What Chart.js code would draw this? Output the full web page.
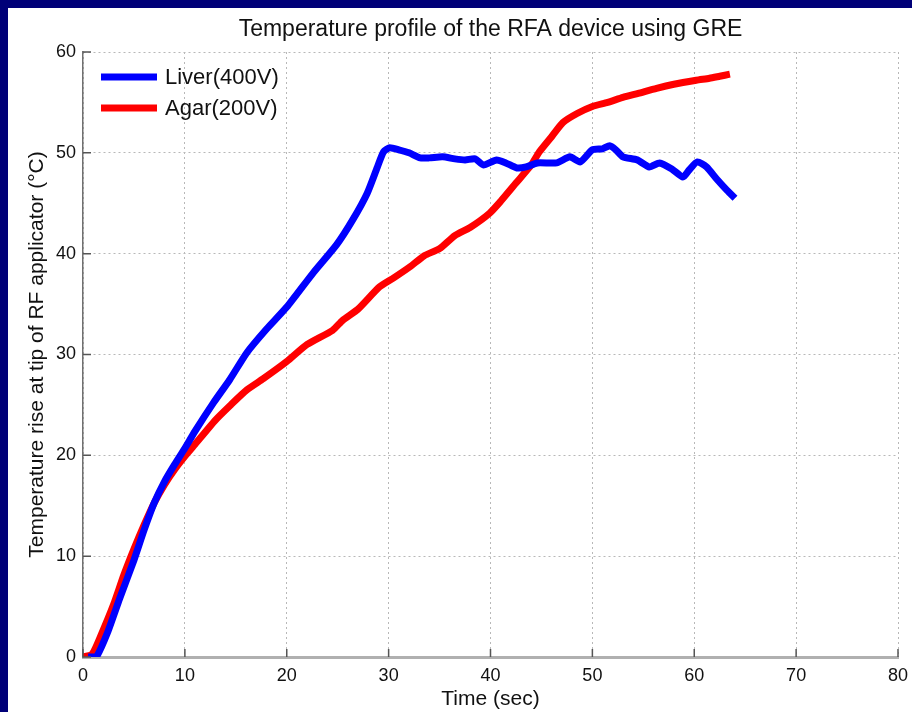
<!DOCTYPE html>
<html>
<head>
<meta charset="utf-8">
<script src="https://cdn.jsdelivr.net/npm/chart.js@4/dist/chart.umd.min.js"></script>
<style>
    html, body { margin: 0; padding: 0; background: #000078; }
    #chart_holder { width: 912px; height: 712px; }
</style>
</head>
<body>
<div id="chart_holder"><canvas id="temperature_chart"></canvas></div>
<script>
// values: time in sec, temperature rise in degC
let liverTime = [0.5, 1.3, 2.4, 3.6, 5, 6, 7, 8, 9, 10, 11, 12.8, 14.4, 16.1, 18, 20, 22.6, 24.9, 26.5, 27.9, 28.9, 29.5,
    30.1, 31, 32, 33.1, 34, 35.3, 36.5, 37.5, 38.5, 39.3, 40.6, 41.5, 42.6, 43.5, 44.6, 46.5, 47.8, 48.8, 50, 51,
    51.7, 52.3, 53, 54.4, 55.6, 56.6, 57.8, 58.9, 59.5, 60.3, 61.2, 62.2, 63.2, 64];
let liverTemp = [0, 0, 2.4, 5.8, 9.6, 12.6, 15.3, 17.4, 19.1, 20.7, 22.4, 25.2, 27.5, 30.2, 32.5, 34.7, 38.1, 40.9, 43.4, 46, 48.6, 50.1,
    50.5, 50.3, 50, 49.5, 49.5, 49.6, 49.4, 49.3, 49.4, 48.8, 49.3, 49, 48.5, 48.6, 49, 49, 49.6, 49.1, 50.3, 50.4,
    50.7, 50.3, 49.6, 49.3, 48.6, 49, 48.4, 47.6, 48.3, 49.1, 48.6, 47.4, 46.3, 45.5];

let agarTime = [0, 0.9, 1.7, 3, 4, 5, 6, 7, 8, 9, 10, 11, 13, 14.5, 16.1, 17.7, 20, 22, 24.5, 25.5, 27, 29.1,
    30.5, 32.1, 33.5, 35, 36.5, 38, 39.9, 41, 42.5, 44, 44.8, 46, 47.1, 48.5, 50, 51.5, 53, 54.5, 56.3, 58,
    60.2, 61.5, 62.5, 63.5];
let agarTemp = [0, 0.3, 2, 5.2, 8.1, 10.7, 13.1, 15.3, 17.1, 18.6, 19.9, 21.1, 23.5, 25, 26.5, 27.6, 29.3, 31, 32.4, 33.4, 34.5, 36.7,
    37.6, 38.7, 39.8, 40.5, 41.8, 42.6, 44, 45.2, 47, 48.8, 50.1, 51.6, 53, 53.9, 54.6, 55, 55.5, 55.9, 56.4, 56.8,
    57.2, 57.4, 57.6, 57.8];

let xTicks = [0, 10, 20, 30, 40, 50, 60, 70, 80];
let yTicks = [0, 10, 20, 30, 40, 50, 60];

let seriesNames = ["Liver(400V)", "Agar(200V)"];
let seriesColors = ["#0000ff", "#ff0000"];

let chartTitle = "Temperature profile of the RFA device using GRE";
let fontFamily = "'Liberation Sans', Arial, Helvetica, sans-serif";

function toPoints(xs, ys){
    let points = [];
    for(let i = 0; i < xs.length; i++){
        points.push({x: xs[i], y: ys[i]});
    }
    return points;
}

// navy frame round the white figure
let framePlugin = {
    id: "frame",
    beforeDraw(chart){
        let ctx = chart.ctx;
        ctx.save();
        ctx.fillStyle = "#000078";
        ctx.fillRect(0, 0, chart.width, chart.height);
        ctx.fillStyle = "#ffffff";
        ctx.fillRect(8, 8, chart.width - 8, chart.height - 8);
        ctx.restore();
    }
};

// title centred over the plot area, like matlab does it
let plotTitlePlugin = {
    id: "plotTitle",
    afterDraw(chart){
        let ctx = chart.ctx;
        let area = chart.chartArea;
        ctx.save();
        ctx.font = "23px " + fontFamily;
        ctx.fillStyle = "#111111";
        ctx.textAlign = "center";
        ctx.textBaseline = "middle";
        ctx.fillText(chartTitle, (area.left + area.right) / 2, 30);
        ctx.restore();
    }
};

// matlab style ticks pointing into the plot
let innerTicksPlugin = {
    id: "innerTicks",
    afterDatasetsDraw(chart){
        let ctx = chart.ctx;
        let area = chart.chartArea;
        ctx.save();
        ctx.strokeStyle = "#555555";
        ctx.lineWidth = 1.5;
        ctx.beginPath();
        for(let t of xTicks){
            let px = chart.scales.x.getPixelForValue(t);
            ctx.moveTo(px, area.bottom);
            ctx.lineTo(px, area.bottom - 8);
        }
        for(let t of yTicks){
            let py = chart.scales.y.getPixelForValue(t);
            ctx.moveTo(area.left, py);
            ctx.lineTo(area.left + 8, py);
        }
        ctx.stroke();
        ctx.restore();
    }
};

// legend sits inside the plot, top left
let insideLegendPlugin = {
    id: "insideLegend",
    afterDraw(chart){
        let ctx = chart.ctx;
        let area = chart.chartArea;
        ctx.save();
        ctx.font = "22px " + fontFamily;
        ctx.textBaseline = "middle";
        chart.data.datasets.forEach((ds, i) => {
            let y = area.top + 25 + i * 31;
            ctx.strokeStyle = ds.borderColor;
            ctx.lineWidth = 7;
            ctx.beginPath();
            ctx.moveTo(area.left + 18, y);
            ctx.lineTo(area.left + 74, y);
            ctx.stroke();
            ctx.fillStyle = "#111111";
            ctx.fillText(ds.label, area.left + 82, y + 1);
        });
        ctx.restore();
    }
};

let canvas = document.getElementById("temperature_chart");

new Chart(canvas, {
    type: "line",
    data: {
        datasets: [
            {
                label: seriesNames[0],
                data: toPoints(liverTime, liverTemp),
                borderColor: seriesColors[0],
                borderWidth: 7,
                pointRadius: 0,
                tension: 0.2
            },
            {
                label: seriesNames[1],
                data: toPoints(agarTime, agarTemp),
                borderColor: seriesColors[1],
                borderWidth: 7,
                pointRadius: 0,
                tension: 0.2
            }
        ]
    },
    options: {
        responsive: true,
        maintainAspectRatio: false,
        animation: false,
        layout: {
            padding: {left: 8, right: 14, top: 52, bottom: 0}
        },
        plugins: {
            legend: {display: false},
            tooltip: {enabled: false},
            title: {display: false}
        },
        scales: {
            x: {
                type: "linear",
                min: 0,
                max: 80,
                afterBuildTicks: (scale) => { scale.ticks = xTicks.map(v => ({value: v})); },
                afterFit: (scale) => {
                    scale.height = 55;
                    scale.paddingLeft = 0;
                    scale.paddingRight = 0;
                },
                grid: {color: "#b8b8b8", lineWidth: 1, drawTicks: false},
                border: {color: "#b0b0b0", width: 3, dash: [2, 3]},
                ticks: {
                    color: "#111111",
                    padding: 8,
                    font: {family: fontFamily, size: 18}
                },
                title: {
                    display: true,
                    text: "Time (sec)",
                    color: "#111111",
                    font: {family: fontFamily, size: 21},
                    padding: {top: 0, bottom: 0}
                }
            },
            y: {
                type: "linear",
                min: 0,
                max: 60,
                afterBuildTicks: (scale) => { scale.ticks = yTicks.map(v => ({value: v})); },
                afterFit: (scale) => { scale.width = 75; },
                grid: {color: "#b8b8b8", lineWidth: 1, drawTicks: false},
                border: {color: "#707070", width: 1.5, dash: [2, 3]},
                ticks: {
                    color: "#111111",
                    padding: 7,
                    font: {family: fontFamily, size: 18}
                },
                title: {
                    display: true,
                    text: "Temperature rise at tip of RF applicator (\u00B0C)",
                    color: "#111111",
                    font: {family: fontFamily, size: 21},
                    padding: {top: 17, bottom: 0}
                }
            }
        }
    },
    plugins: [framePlugin, plotTitlePlugin, innerTicksPlugin, insideLegendPlugin]
});
</script>
</body>
</html>
